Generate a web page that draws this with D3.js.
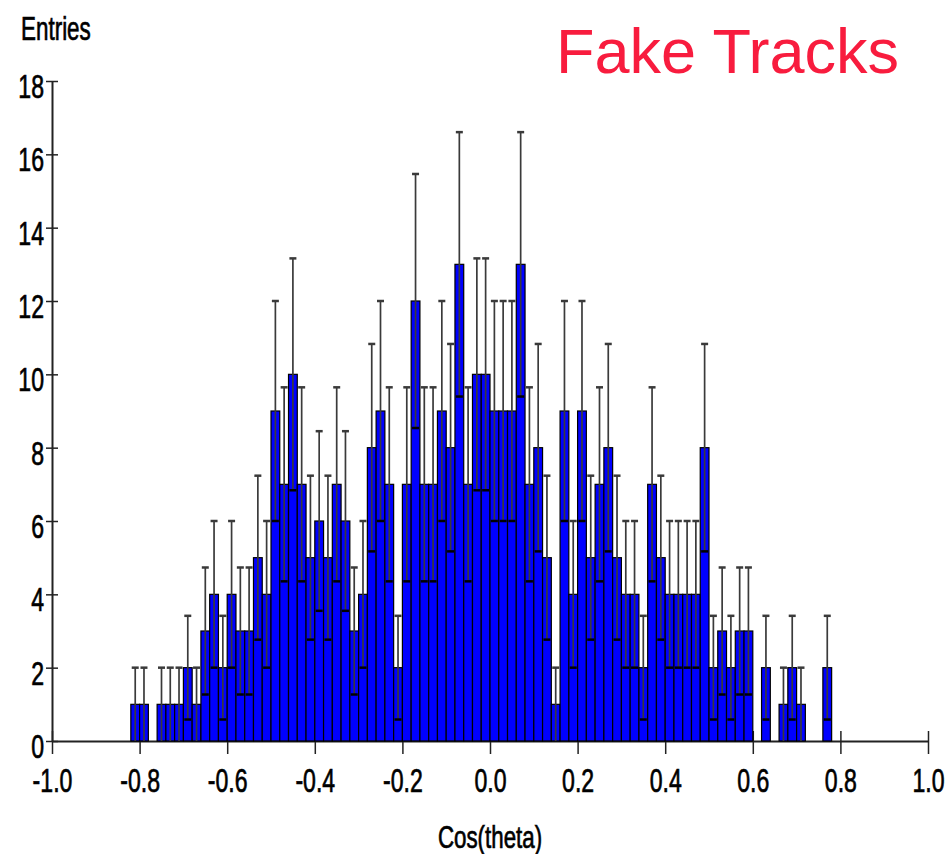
<!DOCTYPE html>
<html>
<head>
<meta charset="utf-8">
<script src="https://cdn.jsdelivr.net/npm/d3@7"></script>
<style>
  body { margin: 0; background: #fff; }
  svg text { font-family: "Liberation Sans", Arial, sans-serif; }
  .heavy { stroke: #000; stroke-width: 0.7px; }
</style>
</head>
<body>
<svg id="chart" width="947" height="854"></svg>
<script>
// lower edge of each 0.02 bin and the entries in it
var binLow = [
  -0.82, -0.80, -0.78, -0.76, -0.74, -0.72, -0.70, -0.68, -0.66, -0.64,
  -0.62, -0.60, -0.58, -0.56, -0.54, -0.52, -0.50, -0.48, -0.46, -0.44,
  -0.42, -0.40, -0.38, -0.36, -0.34, -0.32, -0.30, -0.28, -0.26, -0.24,
  -0.22, -0.20, -0.18, -0.16, -0.14, -0.12, -0.10, -0.08, -0.06, -0.04,
  -0.02, 0.00, 0.02, 0.04, 0.06, 0.08, 0.10, 0.12, 0.14, 0.16,
  0.18, 0.20, 0.22, 0.24, 0.26, 0.28, 0.30, 0.32, 0.34, 0.36,
  0.38, 0.40, 0.42, 0.44, 0.46, 0.48, 0.50, 0.52, 0.54, 0.56,
  0.58, 0.60, 0.62, 0.64, 0.66, 0.68, 0.70, 0.72, 0.74, 0.76
];
var counts = [
  1, 1, 0, 1, 1, 1, 2, 1, 3, 4,
  2, 4, 3, 3, 5, 4, 9, 7, 10, 7,
  5, 6, 5, 7, 6, 3, 4, 8, 9, 7,
  2, 7, 12, 7, 7, 9, 8, 13, 7, 10,
  10, 9, 9, 9, 13, 7, 8, 5, 1, 9,
  4, 9, 5, 7, 8, 5, 4, 4, 2, 7,
  5, 4, 4, 4, 4, 8, 2, 3, 2, 3,
  3, 0, 2, 0, 1, 2, 1, 0, 0, 2
];
var xTicks = [-1.0, -0.8, -0.6, -0.4, -0.2, 0.0, 0.2, 0.4, 0.6, 0.8, 1.0];
var yTicks = [0, 2, 4, 6, 8, 10, 12, 14, 16, 18];

var binWidth = 0.02;
var squeeze = 0.7; // condensed look of the axis font

var svg = d3.select('#chart');

var x = d3.scaleLinear().domain([-1, 1]).range([52, 928]);
var y = d3.scaleLinear().domain([0, 18]).range([741, 81]);

var bins = [];
counts.forEach(function (c, i) {
  if (c > 0) {
    bins.push({ lo: binLow[i], hi: binLow[i] + binWidth, n: c, err: Math.sqrt(c) });
  }
});

//-------------------------------
// Axes (drawn first so the bars cover the tick stubs)

var xAxis = svg.append('g')
  .attr('transform', 'translate(0,' + y(0) + ')')
  .call(d3.axisBottom(x).tickValues(xTicks).tickSizeOuter(0)
    .tickFormat(function (d) { return d.toFixed(1); }));

xAxis.select('.domain').attr('stroke', '#222').attr('stroke-width', 2);
xAxis.selectAll('.tick line')
  .attr('y1', -10).attr('y2', 13)
  .attr('stroke', '#222').attr('stroke-width', 1.5);
xAxis.selectAll('.tick text')
  .attr('class', 'heavy')
  .attr('y', 28).attr('dy', '0.71em')
  .attr('x', 0)
  .attr('transform', 'scale(' + squeeze + ',1)')
  .style('font-size', '33px')
  .attr('fill', '#000');

var yAxis = svg.append('g')
  .attr('transform', 'translate(' + x(-1) + ',0)')
  .call(d3.axisLeft(y).tickValues(yTicks).tickSizeOuter(0)
    .tickFormat(function (d) { return d; }));

yAxis.select('.domain').attr('stroke', '#222').attr('stroke-width', 2);
yAxis.selectAll('.tick line')
  .attr('x1', 6).attr('x2', -6)
  .attr('stroke', '#222').attr('stroke-width', 1.5);
yAxis.selectAll('.tick text')
  .attr('class', 'heavy')
  .attr('x', -8 / squeeze)
  .attr('dy', '0.5em')
  .attr('transform', 'scale(' + squeeze + ',1)')
  .style('font-size', '33px')
  .attr('fill', '#000');

//-------------------------------
// Histogram bars

svg.append('g').selectAll('rect')
  .data(bins)
  .enter().append('rect')
  .attr('x', function (d) { return x(d.lo); })
  .attr('width', function (d) { return x(d.hi) - x(d.lo); })
  .attr('y', function (d) { return y(d.n); })
  .attr('height', function (d) { return y(0) - y(d.n); })
  .style('fill', '#0000ff')
  .style('stroke', '#000')
  .style('stroke-width', 1.2);

//-------------------------------
// Poisson error bars

var errs = svg.append('g')
  .attr('stroke', '#3a3a3a')
  .attr('stroke-width', 1.7);

var cap = 3.5;

errs.selectAll('.err')
  .data(bins)
  .enter().append('line')
  .attr('x1', function (d) { return x((d.lo + d.hi) / 2); })
  .attr('x2', function (d) { return x((d.lo + d.hi) / 2); })
  .attr('y1', function (d) { return y(d.n - d.err); })
  .attr('y2', function (d) { return y(d.n + d.err); });

errs.selectAll('.cap-top')
  .data(bins)
  .enter().append('line')
  .attr('x1', function (d) { return x((d.lo + d.hi) / 2) - cap; })
  .attr('x2', function (d) { return x((d.lo + d.hi) / 2) + cap; })
  .attr('y1', function (d) { return y(d.n + d.err); })
  .attr('y2', function (d) { return y(d.n + d.err); })
  .attr('stroke-width', 2.5);

errs.selectAll('.cap-low')
  .data(bins.filter(function (d) { return d.n > 1; }))
  .enter().append('line')
  .attr('x1', function (d) { return x((d.lo + d.hi) / 2) - cap; })
  .attr('x2', function (d) { return x((d.lo + d.hi) / 2) + cap; })
  .attr('y1', function (d) { return y(d.n - d.err); })
  .attr('y2', function (d) { return y(d.n - d.err); })
  .attr('stroke', '#000')
  .attr('stroke-width', 2.5);

//-------------------------------
// Titles

svg.append('text')
  .attr('class', 'heavy')
  .attr('transform', 'translate(21,40) scale(0.68,1)')
  .style('font-size', '33px')
  .text('Entries');

svg.append('text')
  .attr('class', 'heavy')
  .attr('transform', 'translate(' + x(0) + ',848) scale(0.72,1)')
  .attr('text-anchor', 'middle')
  .style('font-size', '31px')
  .text('Cos(theta)');

svg.append('text')
  .attr('x', 556)
  .attr('y', 73)
  .style('font-size', '63px')
  .attr('fill', '#f81c3e')
  .text('Fake Tracks');
</script>
</body>
</html>
